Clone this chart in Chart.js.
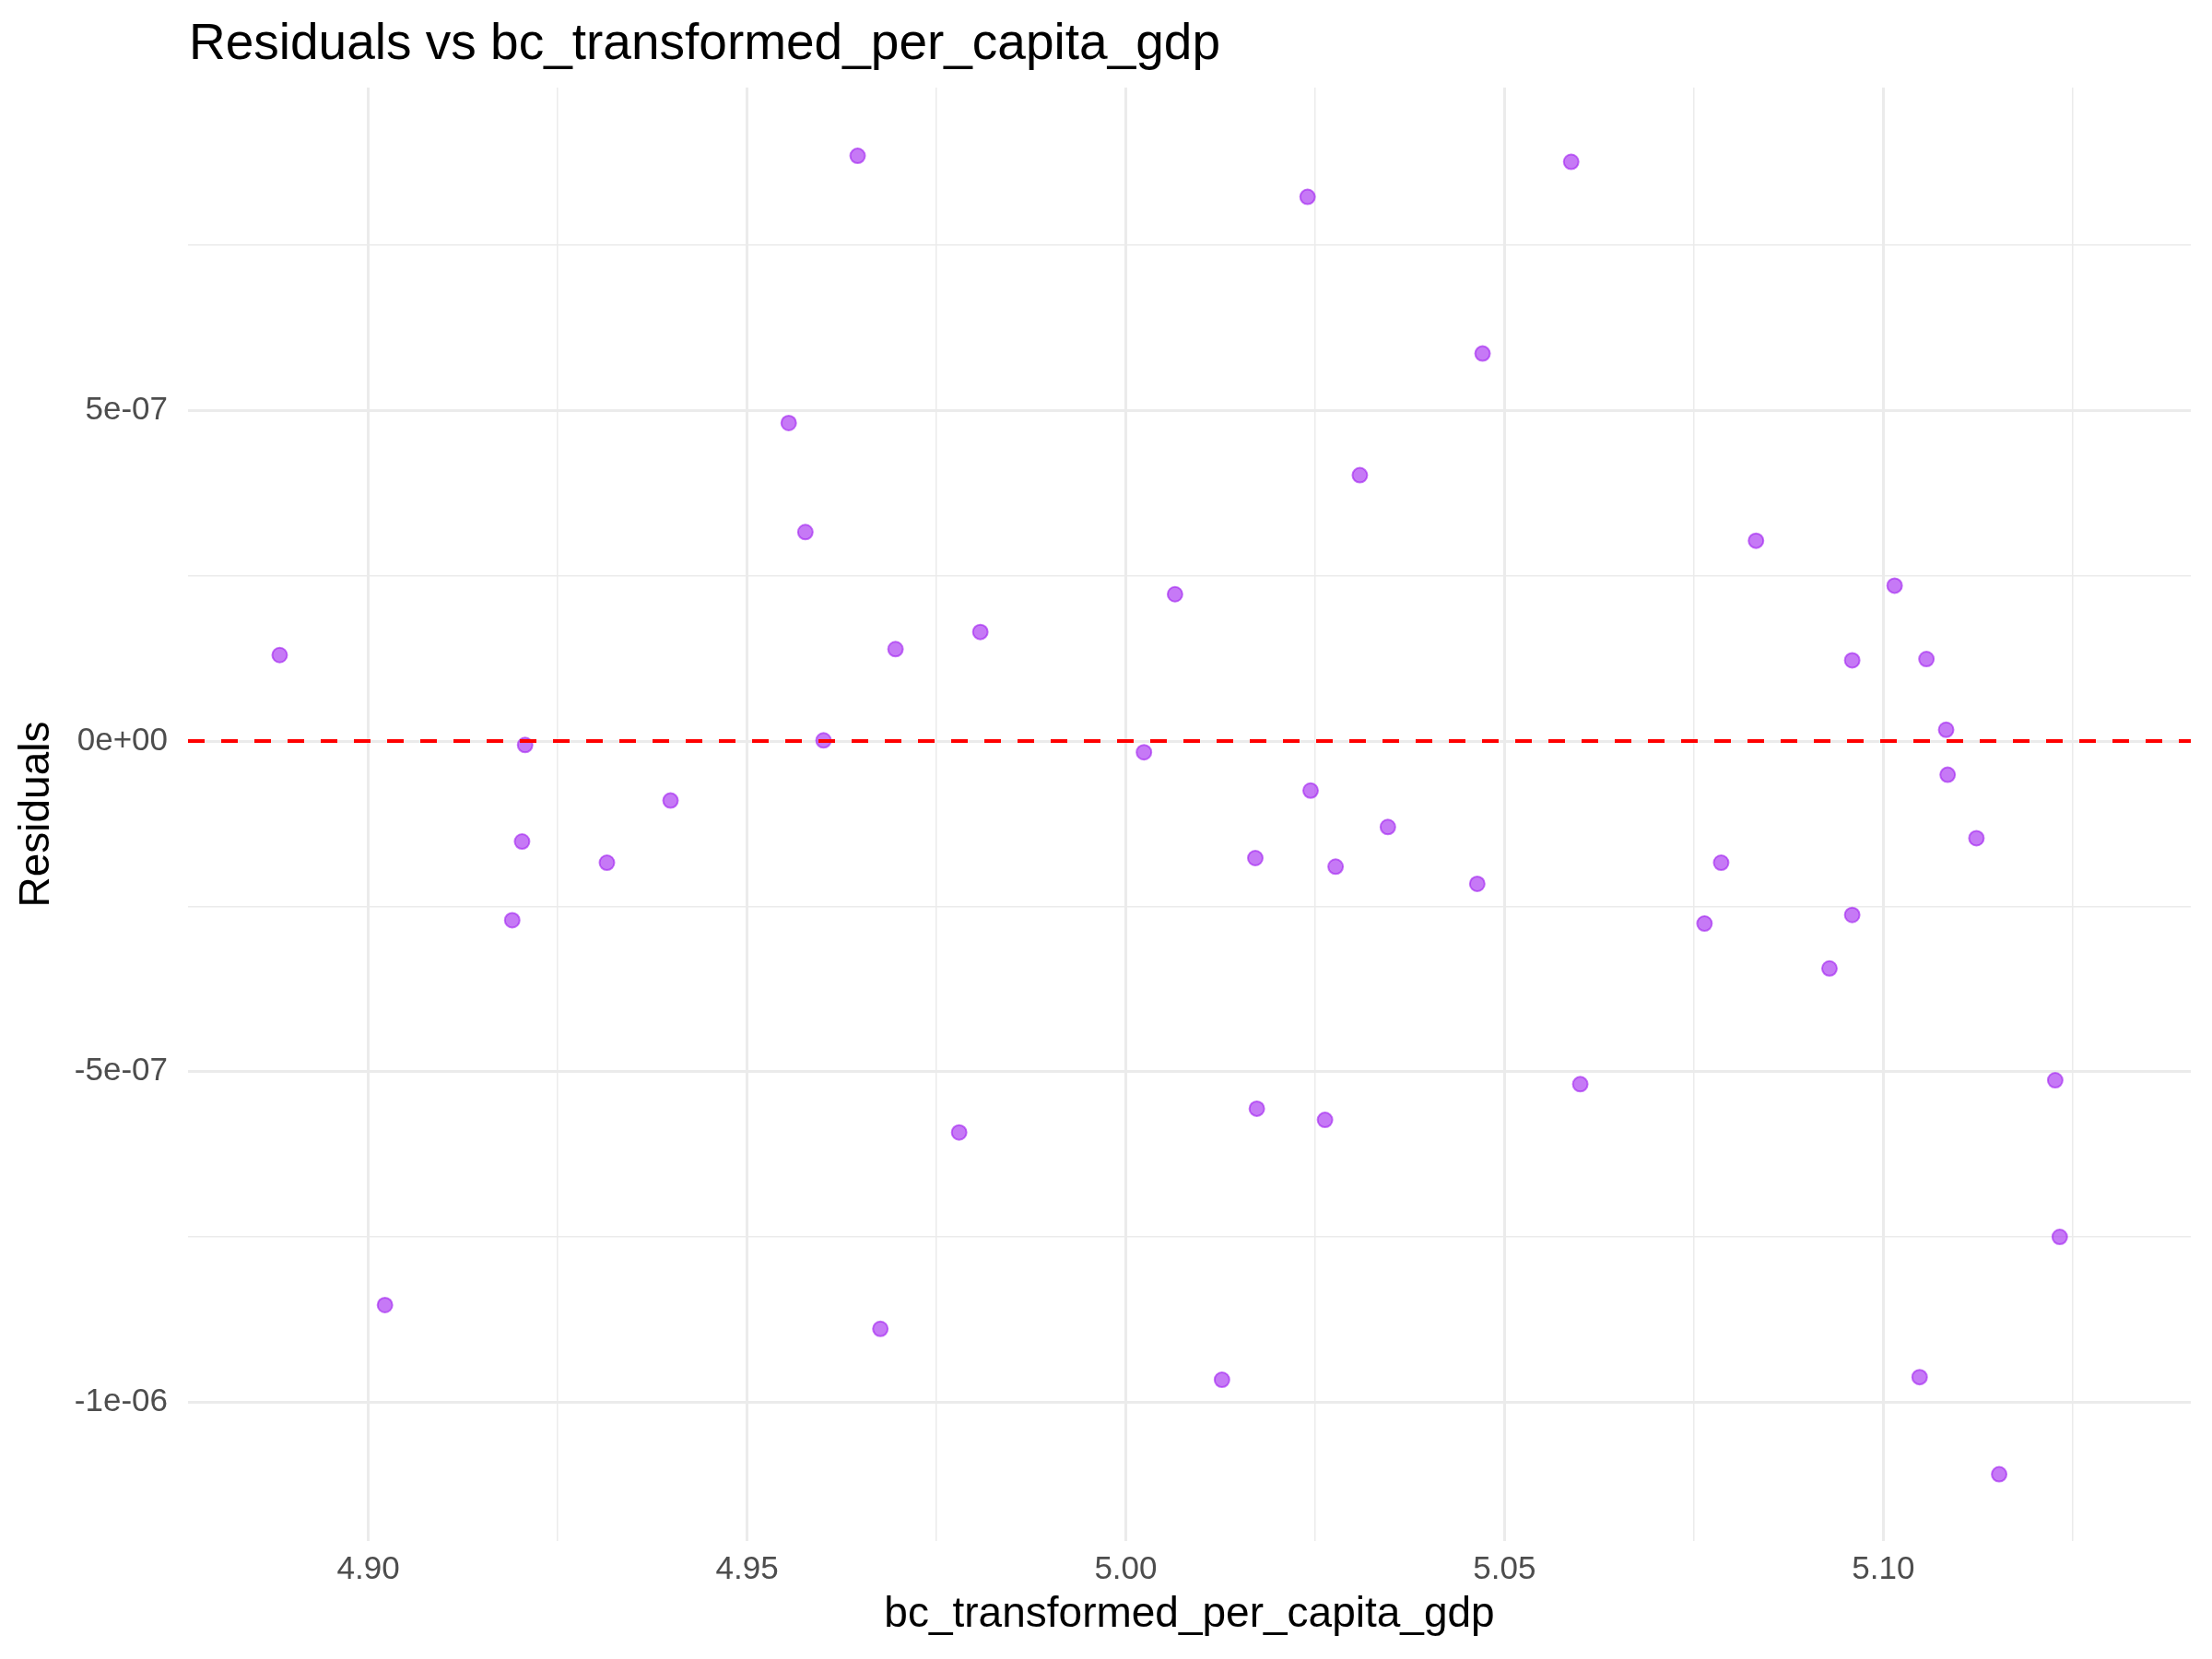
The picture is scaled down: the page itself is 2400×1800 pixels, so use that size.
<!DOCTYPE html>
<html>
<head>
<meta charset="utf-8">
<script src="https://cdn.jsdelivr.net/npm/chart.js@4.4.1/dist/chart.umd.min.js"></script>
<style>
  body { margin: 0; background: #fff; }
  canvas { display: block; }
</style>
</head>
<body>
<canvas id="residualChart" width="2400" height="1800"></canvas>
<script>
// chart text
const chartTitle = 'Residuals vs bc_transformed_per_capita_gdp';
const xAxisTitle = 'bc_transformed_per_capita_gdp';
const yAxisTitle = 'Residuals';

const gdpValues = [
    4.8883, 4.9022, 4.9190, 4.9203, 4.9207, 4.9315, 4.9399, 4.9555, 4.9577, 4.9601,
    4.9646, 4.9676, 4.9696, 4.9780, 4.9808, 5.0024, 5.0065, 5.0127, 5.0171, 5.0173,
    5.0240, 5.0244, 5.0263, 5.0277, 5.0309, 5.0346, 5.0464, 5.0471, 5.0588, 5.0600,
    5.0764, 5.0786, 5.0832, 5.0929, 5.0959, 5.0959, 5.1015, 5.1048, 5.1057, 5.1083,
    5.1085, 5.1123, 5.1153, 5.1227, 5.1233
];
const residualValues = [
    1.30e-7, -8.53e-7, -2.71e-7, -1.52e-7, -0.06e-7, -1.84e-7, -0.90e-7, 4.81e-7, 3.16e-7, 0.01e-7,
    8.85e-7, -8.89e-7, 1.39e-7, -5.92e-7, 1.65e-7, -0.17e-7, 2.22e-7, -9.66e-7, -1.77e-7, -5.56e-7,
    8.23e-7, -0.75e-7, -5.73e-7, -1.90e-7, 4.02e-7, -1.30e-7, -2.16e-7, 5.86e-7, 8.76e-7, -5.19e-7,
    -2.76e-7, -1.84e-7, 3.03e-7, -3.44e-7, 1.22e-7, -2.63e-7, 2.35e-7, -9.62e-7, 1.24e-7, 0.17e-7,
    -0.51e-7, -1.47e-7, -11.09e-7, -5.13e-7, -7.50e-7
];

// reference line
const hlineY = 0;

// axis ranges and ticks
const xMin = 4.8762, xMax = 5.1406;
const yMin = -1.2099e-6, yMax = 9.883e-7;
const xMajorTicks = [4.90, 4.95, 5.00, 5.05, 5.10];
const xMajorLabels = ['4.90', '4.95', '5.00', '5.05', '5.10'];
const xMinorTicks = [4.925, 4.975, 5.025, 5.075, 5.125];
const yMajorTicks = [-1e-6, -5e-7, 0, 5e-7];
const yMajorLabels = ['-1e-06', '-5e-07', '0e+00', '5e-07'];
const yMinorTicks = [-7.5e-7, -2.5e-7, 2.5e-7, 7.5e-7];

const FONT = '"Liberation Sans", Arial, Helvetica, sans-serif';
const GRID = '#EBEBEB';

function isMajor(list, v) {
    return list.some(function (m) { return Math.abs(m - v) < 1e-12; });
}
function labelFor(list, labels, v) {
    for (let i = 0; i < list.length; i++) {
        if (Math.abs(list[i] - v) < 1e-12) return labels[i];
    }
    return '';
}

let points = gdpValues.map(function (x, i) {
    return { x: x, y: residualValues[i] };
});

// ggplot-style title placed at the panel's left edge
const titlePlugin = {
    id: 'panelTitle',
    afterDraw(chart) {
        const c = chart.ctx;
        c.save();
        c.font = '55px ' + FONT;
        c.fillStyle = '#000';
        c.textBaseline = 'alphabetic';
        c.textAlign = 'left';
        c.fillText(chartTitle, chart.chartArea.left + 1, 64);
        c.restore();
    }
};

const ctx = document.getElementById('residualChart').getContext('2d');
const chart = new Chart(ctx, {
    type: 'scatter',
    data: {
        datasets: [
            {
                // dashed zero line, drawn on top
                type: 'line',
                data: [{ x: xMin, y: hlineY }, { x: xMax, y: hlineY }],
                borderColor: '#FF0000',
                borderWidth: 4,
                borderDash: [18, 18],
                pointRadius: 0,
                fill: false
            },
            {
                label: 'residuals',
                data: points,
                backgroundColor: 'rgba(160, 32, 240, 0.6)',
                borderColor: 'rgba(160, 32, 240, 0.6)',
                borderWidth: 2,
                pointRadius: 8
            }
        ]
    },
    options: {
        responsive: false,
        animation: false,
        devicePixelRatio: 1,
        layout: { padding: { top: 95, right: 23, left: 0, bottom: 0 } },
        plugins: {
            legend: { display: false },
            tooltip: { enabled: false },
            title: { display: false }
        },
        scales: {
            x: {
                type: 'linear',
                min: xMin,
                max: xMax,
                afterBuildTicks: function (scale) {
                    scale.ticks = xMajorTicks.concat(xMinorTicks).map(function (v) { return { value: v }; });
                },
                afterFit: function (scale) { scale.height = 128; },
                grid: {
                    color: GRID,
                    lineWidth: function (c) { return isMajor(xMajorTicks, c.tick.value) ? 3 : 1.5; },
                    drawTicks: false
                },
                border: { display: false },
                ticks: {
                    padding: 10,
                    color: '#4D4D4D',
                    font: { family: FONT, size: 35 },
                    autoSkip: false,
                    maxRotation: 0,
                    callback: function (v) { return labelFor(xMajorTicks, xMajorLabels, v); }
                },
                title: {
                    display: true,
                    text: xAxisTitle,
                    color: '#000',
                    font: { family: FONT, size: 46 },
                    padding: { top: 0, bottom: 20 }
                }
            },
            y: {
                type: 'linear',
                min: yMin,
                max: yMax,
                afterBuildTicks: function (scale) {
                    scale.ticks = yMajorTicks.concat(yMinorTicks).map(function (v) { return { value: v }; });
                },
                afterFit: function (scale) { scale.width = 204; },
                grid: {
                    color: GRID,
                    lineWidth: function (c) { return isMajor(yMajorTicks, c.tick.value) ? 3 : 1.5; },
                    drawTicks: false
                },
                border: { display: false },
                ticks: {
                    padding: 22,
                    color: '#4D4D4D',
                    font: { family: FONT, size: 35 },
                    autoSkip: false,
                    callback: function (v) { return labelFor(yMajorTicks, yMajorLabels, v); }
                },
                title: {
                    display: true,
                    text: yAxisTitle,
                    color: '#000',
                    font: { family: FONT, size: 46 },
                    padding: { top: 13, bottom: 0 }
                }
            }
        }
    },
    plugins: [titlePlugin]
});
</script>
</body>
</html>
